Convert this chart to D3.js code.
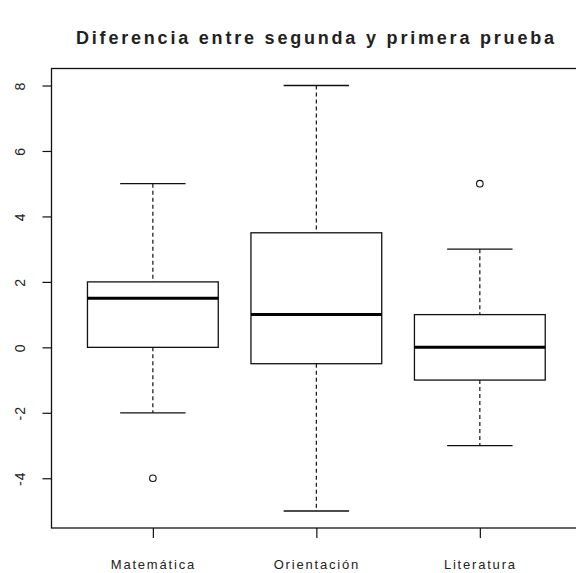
<!DOCTYPE html>
<html>
<head>
<meta charset="utf-8">
<script src="https://cdn.jsdelivr.net/npm/d3@7"></script>
<style>
  body { margin: 0; background: #fff; }
  text { font-family: "Liberation Sans", Arial, sans-serif; fill: #222; }
</style>
</head>
<body>
<div id="chart"></div>
<script>
const categories = ["Matemática", "Orientación", "Literatura"];
const whiskerLow  = [-2, -5, -3];
const q1          = [0, -0.5, -1];
const medians     = [1.5, 1, 0];
const q3          = [2, 3.5, 1];
const whiskerHigh = [5, 8, 3];
const outliers    = [[-4], [], [5]];
const yTicks      = [-4, -2, 0, 2, 4, 6, 8];

const data = categories.map((c, i) => ({
  name: c, pos: i + 1,
  lo: whiskerLow[i], q1: q1[i], med: medians[i], q3: q3[i], hi: whiskerHigh[i],
  out: outliers[i]
}));

const W = 576, H = 573;
const svg = d3.select("#chart").append("svg")
    .attr("width", W).attr("height", H);

// R style axes: 4% padding around data range
const x = d3.scaleLinear().domain([0.38, 3.62]).range([51.5, 581.2]);
const y = d3.scaleLinear().domain([-5.52, 8.52]).range([528, 68.5]);

const boxHalf = 0.4, capHalf = 0.2;

svg.append("text")
    .attr("x", 315).attr("y", 44)
    .attr("text-anchor", "middle")
    .attr("textLength", 478)
    .attr("lengthAdjust", "spacing")
    .style("font-size", "18px")
    .style("font-weight", "bold")
    .text("Diferencia entre segunda y primera prueba");

// plot frame
svg.append("rect")
    .attr("x", x(0.38)).attr("y", y(8.52))
    .attr("width", x(3.62) - x(0.38)).attr("height", y(-5.52) - y(8.52))
    .attr("fill", "none").attr("stroke", "#111").attr("stroke-width", 1.3);

// y axis
const yAxis = svg.append("g")
    .attr("transform", `translate(${x(0.38)},0)`)
    .call(d3.axisLeft(y).tickValues(yTicks).tickSize(9).tickFormat(d => String(d)));
yAxis.select(".domain").remove();
yAxis.selectAll("line").attr("stroke", "#111").attr("stroke-width", 1.2);
yAxis.selectAll("text")
    .attr("x", 0).attr("y", 0).attr("dy", "0.35em")
    .attr("text-anchor", "middle")
    .attr("transform", "translate(-31,0) rotate(-90)")
    .style("font-size", "14px")
    .style("letter-spacing", "1px");

// x axis
const xAxis = svg.append("g")
    .attr("transform", `translate(0,${y(-5.52)})`)
    .call(d3.axisBottom(x).tickValues(data.map(d => d.pos)).tickSize(10).tickPadding(22)
      .tickFormat((d, i) => categories[i]));
xAxis.select(".domain").remove();
xAxis.selectAll("line").attr("stroke", "#111").attr("stroke-width", 1.2);
xAxis.selectAll("text")
    .style("font-size", "13px")
    .style("letter-spacing", "1.8px");

const g = svg.selectAll(".box").data(data).enter().append("g").attr("class", "box");

// whiskers (dashed)
g.append("line")
    .attr("x1", d => x(d.pos)).attr("x2", d => x(d.pos))
    .attr("y1", d => y(d.hi)).attr("y2", d => y(d.q3))
    .attr("stroke", "#111").attr("stroke-width", 1.2).attr("stroke-dasharray", "4,3");
g.append("line")
    .attr("x1", d => x(d.pos)).attr("x2", d => x(d.pos))
    .attr("y1", d => y(d.q1)).attr("y2", d => y(d.lo))
    .attr("stroke", "#111").attr("stroke-width", 1.2).attr("stroke-dasharray", "4,3");

// caps
["hi", "lo"].forEach(k => {
  g.append("line")
      .attr("x1", d => x(d.pos - capHalf)).attr("x2", d => x(d.pos + capHalf))
      .attr("y1", d => y(d[k])).attr("y2", d => y(d[k]))
      .attr("stroke", "#111").attr("stroke-width", 1.3);
});

// box
g.append("rect")
    .attr("x", d => x(d.pos - boxHalf))
    .attr("y", d => y(d.q3))
    .attr("width", d => x(d.pos + boxHalf) - x(d.pos - boxHalf))
    .attr("height", d => y(d.q1) - y(d.q3))
    .attr("fill", "#fff").attr("stroke", "#111").attr("stroke-width", 1.3);

// median
g.append("line")
    .attr("x1", d => x(d.pos - boxHalf)).attr("x2", d => x(d.pos + boxHalf))
    .attr("y1", d => y(d.med)).attr("y2", d => y(d.med))
    .attr("stroke", "#000").attr("stroke-width", 3);

// outliers
g.selectAll(".out").data(d => d.out.map(v => ({ pos: d.pos, v }))).enter()
  .append("circle")
    .attr("cx", d => x(d.pos)).attr("cy", d => y(d.v)).attr("r", 3.3)
    .attr("fill", "none").attr("stroke", "#111").attr("stroke-width", 1.1);
</script>
</body>
</html>
